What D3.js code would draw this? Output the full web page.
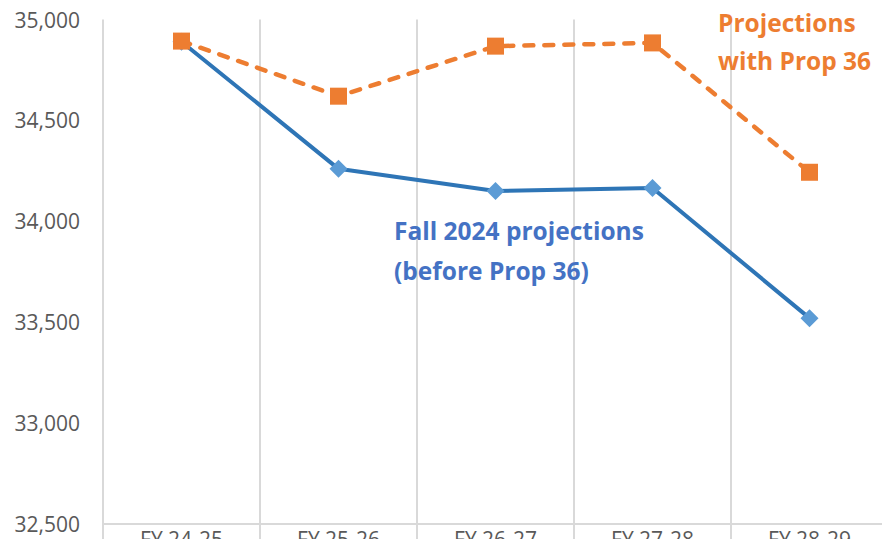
<!DOCTYPE html>
<html>
<head>
<meta charset="utf-8">
<script src="https://cdn.jsdelivr.net/npm/d3@7"></script>
<style>
  html, body { margin: 0; padding: 0; background: #ffffff; overflow: hidden; }
  svg { display: block; }
</style>
</head>
<body>
<svg id="chart" width="882" height="539"></svg>
<script>
const categories = ["FY 24-25", "FY 25-26", "FY 26-27", "FY 27-28", "FY 28-29"];
const fallValues = [34890, 34260, 34150, 34165, 33520];
const propValues = [34893, 34620, 34868, 34884, 34243];
const yTicks = [32500, 33000, 33500, 34000, 34500, 35000];
const fallLabel = ["Fall 2024 projections", "(before Prop 36)"];
const propLabel = ["Projections", "with Prop 36"];

(function () {
const W = 882, H = 539;
const mLeft = 103, mRight = 888, mTop = 19.5, mBottom = 524;
const svg = d3.select("#chart");

const x = d3.scaleBand().domain(categories).range([mLeft, mRight]).padding(0);
const y = d3.scaleLinear().domain([32500, 35000]).range([mBottom, mTop]);
const cx = d => x(d) + x.bandwidth() / 2;

const grid = "#d9d9d9";
const font = "'Open Sans', sans-serif";

// vertical gridlines at category boundaries
const bounds = categories.map(c => x(c)).concat([x(categories[categories.length - 1]) + x.bandwidth()]);
svg.append("g").selectAll("line").data(bounds).join("line")
  .attr("x1", d => d).attr("x2", d => d)
  .attr("y1", mTop).attr("y2", H)
  .attr("stroke", grid).attr("stroke-width", 2);

// x axis line
svg.append("line").attr("x1", mLeft).attr("x2", mRight)
  .attr("y1", mBottom).attr("y2", mBottom)
  .attr("stroke", grid).attr("stroke-width", 2);

// y tick labels
svg.append("g").selectAll("text").data(yTicks).join("text")
  .attr("x", 80).attr("y", d => y(d))
  .attr("text-anchor", "end").attr("dominant-baseline", "central")
  .attr("font-family", font).attr("font-size", 21).attr("fill", "#595959")
  .text(d => d3.format(",")(d));

// x labels (clipped by canvas bottom, as in the reference)
svg.append("g").selectAll("text").data(categories).join("text")
  .attr("x", d => cx(d)).attr("y", 547)
  .attr("text-anchor", "middle")
  .attr("font-family", font).attr("font-size", 21).attr("fill", "#595959")
  .text(d => d);

// lines
const line = d3.line().x((d, i) => cx(categories[i])).y(d => y(d));

svg.append("path").datum(fallValues).attr("d", line)
  .attr("fill", "none").attr("stroke", "#2E75B6").attr("stroke-width", 4)
  .attr("stroke-linejoin", "round");

svg.append("path").datum(propValues).attr("d", line)
  .attr("fill", "none").attr("stroke", "#ED7D31").attr("stroke-width", 4.5)
  .attr("stroke-dasharray", "9,11").attr("stroke-linecap", "round")
  .attr("stroke-linejoin", "round");

// markers
svg.append("g").selectAll("path").data(fallValues).join("path")
  .attr("transform", (d, i) => `translate(${cx(categories[i])},${y(d)})`)
  .attr("d", "M0,-9L9,0L0,9L-9,0Z")
  .attr("fill", "#5B9BD5");

svg.append("g").selectAll("rect").data(propValues).join("rect")
  .attr("x", (d, i) => cx(categories[i]) - 8.5).attr("y", d => y(d) - 8.5)
  .attr("width", 17).attr("height", 17)
  .attr("fill", "#ED7D31");

// annotations
svg.append("g").selectAll("text").data(propLabel).join("text")
  .attr("x", 718).attr("y", (d, i) => 22 + i * 38)
  .attr("text-anchor", "start").attr("dominant-baseline", "central")
  .attr("font-family", font).attr("font-weight", "bold").attr("font-size", 24.5)
  .attr("fill", "#ED7D31")
  .text(d => d);

svg.append("g").selectAll("text").data(fallLabel).join("text")
  .attr("x", 394).attr("y", (d, i) => 230 + i * 40)
  .attr("text-anchor", "start").attr("dominant-baseline", "central")
  .attr("font-family", font).attr("font-weight", "bold").attr("font-size", 24.5)
  .attr("fill", "#4472C4")
  .text(d => d);
})();
</script>
</body>
</html>
